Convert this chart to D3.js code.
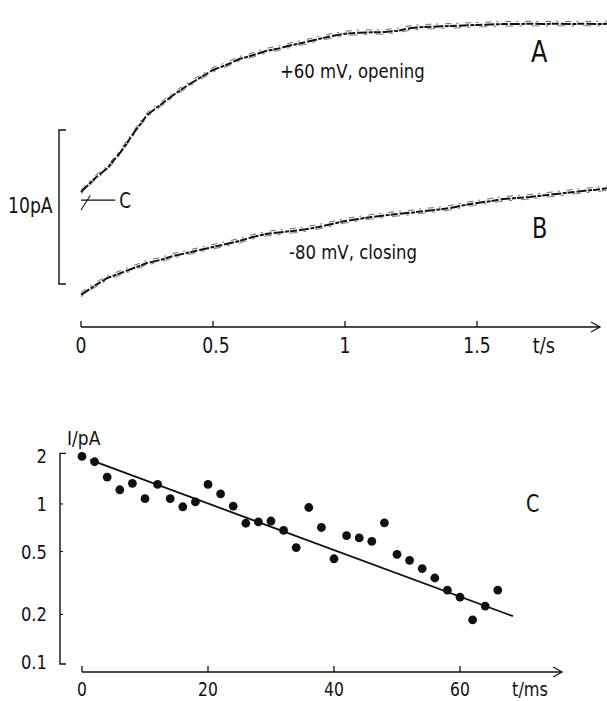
<!DOCTYPE html>
<html>
<head>
<meta charset="utf-8">
<script src="https://cdn.jsdelivr.net/npm/d3@7"></script>
<style>
  body { margin: 0; background: #fff; }
  svg text { font-family: "DejaVu Sans", sans-serif; fill: #111; }
</style>
</head>
<body>
<svg id="fig" width="607" height="701"></svg>
<script>
// ---------- Upper panel: current relaxations after a voltage step ----------
// time in s, current in pA (zero = foot of the 10 pA scale bar)
const traceTime = [0, 0.05, 0.1, 0.15, 0.2, 0.25, 0.3, 0.35, 0.4, 0.45, 0.5, 0.55, 0.6, 0.65,
  0.7, 0.75, 0.8, 0.85, 0.9, 0.95, 1.0, 1.05, 1.1, 1.15, 1.2, 1.25, 1.3, 1.35, 1.4, 1.45,
  1.5, 1.55, 1.6, 1.65, 1.7, 1.75, 1.8, 1.85, 1.9, 1.95, 2.0];
// trace A: +60 mV, opening
const traceA = [5.97, 6.82, 7.53, 8.57, 9.81, 10.97, 11.62, 12.27, 12.86, 13.38, 13.90, 14.22,
  14.61, 14.85, 15.13, 15.30, 15.52, 15.70, 15.91, 16.10, 16.25, 16.32, 16.34, 16.36, 16.45,
  16.62, 16.69, 16.72, 16.75, 16.78, 16.82, 16.85, 16.88, 16.88, 16.90, 16.88, 16.90, 16.88,
  16.90, 16.88, 16.90];
// trace B: -80 mV, closing
const traceB = [-0.71, -0.13, 0.39, 0.71, 1.04, 1.36, 1.56, 1.82, 2.01, 2.21, 2.40, 2.60, 2.79,
  3.05, 3.25, 3.35, 3.44, 3.55, 3.70, 3.90, 4.09, 4.22, 4.35, 4.45, 4.55, 4.63, 4.74, 4.82,
  4.94, 5.12, 5.26, 5.38, 5.52, 5.58, 5.65, 5.75, 5.84, 5.94, 6.04, 6.12, 6.23];
// level C and the initial jump crossing it
const levelC = 5.45;
const levelCSpan = [0, 0.13];
const jumpTime = [0, 0.035];
const jumpCurrent = [4.8, 5.75];
const scaleBar = [0, 10];            // pA
const topTicks = [0, 0.5, 1, 1.5];
const topTickLabels = ["0", "0.5", "1", "1.5"];

// ---------- Lower panel: semilog plot of the decay of component C ----------
const decayTime = [0, 2, 4, 6, 8, 10, 12, 14, 16, 18, 20, 22, 24, 26, 28, 30, 32, 34, 36, 38,
  40, 42, 44, 46, 48, 50, 52, 54, 56, 58, 60, 62, 64, 66];
const decayCurrent = [2.0, 1.85, 1.48, 1.23, 1.35, 1.08, 1.33, 1.08, 0.96, 1.03, 1.33, 1.16,
  0.97, 0.755, 0.77, 0.78, 0.68, 0.53, 0.95, 0.71, 0.45, 0.63, 0.61, 0.58, 0.76, 0.48, 0.44,
  0.39, 0.34, 0.285, 0.257, 0.185, 0.226, 0.285];
const fitTime = [1.3, 68.4];
const fitCurrent = [1.9, 0.195];
const bottomTicks = [0, 20, 40, 60];
const bottomTickLabels = ["0", "20", "40", "60"];
const logTicks = [2, 1, 0.5, 0.2, 0.1];
const logTickLabels = ["2", "1", "0.5", "0.2", "0.1"];

const svg = d3.select("#fig");
const ink = "#111";

// narrow lettering: text squeezed horizontally about its anchor point
function label(x, y, str, size, opts = {}) {
  const sx = opts.sx ?? 0.85;
  return svg.append("text")
    .attr("transform", `translate(${x},${y}) scale(${sx},1)`)
    .attr("text-anchor", opts.anchor ?? "start")
    .attr("font-size", size)
    .text(str);
}

// ---------- upper panel ----------
const xTop = d3.scaleLinear().domain([0, 2]).range([81, 609]);
const yTop = d3.scaleLinear().domain([0, 10]).range([284, 130]);
const axisTopY = 327;
const topArrowT = 1.966;

const traceLine = (vals) => d3.line()
  .x((d, i) => xTop(traceTime[i]))
  .y(d => yTop(d))(vals);

[traceA, traceB].forEach(vals => {
  // faint superimposed sweeps
  svg.append("path").attr("d", traceLine(vals))
    .attr("fill", "none").attr("stroke", ink).attr("stroke-width", 0.9)
    .attr("stroke-dasharray", "6 5 2 7").attr("opacity", 0.7)
    .attr("transform", "translate(0,-2.5)");
  svg.append("path").attr("d", traceLine(vals))
    .attr("fill", "none").attr("stroke", ink).attr("stroke-width", 0.9)
    .attr("stroke-dasharray", "3 9 8 6").attr("opacity", 0.6)
    .attr("transform", "translate(0,2)");
  svg.append("path").attr("d", traceLine(vals))
    .attr("fill", "none").attr("stroke", ink).attr("stroke-width", 2)
    .attr("stroke-dasharray", "10 1.5 4 1 7 2");
});

// level C marker
svg.append("line")
  .attr("x1", xTop(levelCSpan[0])).attr("x2", xTop(levelCSpan[1]))
  .attr("y1", yTop(levelC)).attr("y2", yTop(levelC))
  .attr("stroke", ink).attr("stroke-width", 1.3);
svg.append("line")
  .attr("x1", xTop(jumpTime[0])).attr("x2", xTop(jumpTime[1]))
  .attr("y1", yTop(jumpCurrent[0])).attr("y2", yTop(jumpCurrent[1]))
  .attr("stroke", ink).attr("stroke-width", 1.1);
label(xTop(levelCSpan[1]) + 4, yTop(levelC) + 8, "C", 21, { sx: 0.8 });

// scale bar
const sbX = 59;
svg.append("path")
  .attr("d", `M${sbX + 7},${yTop(scaleBar[1])}H${sbX}V${yTop(scaleBar[0])}H${sbX + 7}`)
  .attr("fill", "none").attr("stroke", ink).attr("stroke-width", 1.4);
label(8, 213, "10pA", 21, { sx: 0.82 });

// time axis
svg.append("line").attr("x1", xTop(0)).attr("x2", xTop(topArrowT))
  .attr("y1", axisTopY).attr("y2", axisTopY).attr("stroke", ink).attr("stroke-width", 1.3);
svg.append("path")
  .attr("d", `M${xTop(topArrowT) - 9},${axisTopY - 5}L${xTop(topArrowT)},${axisTopY}L${xTop(topArrowT) - 9},${axisTopY + 5}`)
  .attr("fill", "none").attr("stroke", ink).attr("stroke-width", 1.2);
topTicks.forEach((t, i) => {
  svg.append("line").attr("x1", xTop(t)).attr("x2", xTop(t))
    .attr("y1", axisTopY).attr("y2", axisTopY - 6).attr("stroke", ink).attr("stroke-width", 1.3);
  label(xTop(t) + (i === 1 ? 3 : 0), 353, topTickLabels[i], 21, { anchor: "middle", sx: 0.82 });
});
label(544, 353, "t/s", 21, { anchor: "middle", sx: 0.85 });

// trace annotations
label(531, 62, "A", 30, { sx: 0.8 });
label(532, 238, "B", 28, { sx: 0.8 });
label(280, 78, "+60 mV, opening", 19, { sx: 0.87 });
label(289, 259, "-80 mV, closing", 19, { sx: 0.87 });

// ---------- lower panel ----------
const xBot = d3.scaleLinear().domain([0, 60]).range([82, 460]);
const yBot = d3.scaleLog().domain([0.1, 2]).range([662, 456.4]);
const axisBotY = 672;
const botArrowT = 76.2;

// log axis drawn as a bracket
const yAxX = 60;
svg.append("path")
  .attr("d", `M${yAxX + 6},${yBot(2) - 3}H${yAxX}V${yBot(0.1) + 2}H${yAxX + 6}`)
  .attr("fill", "none").attr("stroke", ink).attr("stroke-width", 1.4);
logTicks.forEach((v, i) => {
  if (i > 0 && i < logTicks.length - 1) {
    svg.append("line").attr("x1", yAxX).attr("x2", yAxX + 3)
      .attr("y1", yBot(v)).attr("y2", yBot(v)).attr("stroke", ink).attr("stroke-width", 1.1);
  }
  label(47, yBot(v) + 7, logTickLabels[i], 20, { anchor: "end", sx: 0.82 });
});
label(67, 445, "I/pA", 19, { sx: 0.9 });

// time axis
svg.append("line").attr("x1", xBot(0)).attr("x2", xBot(botArrowT))
  .attr("y1", axisBotY).attr("y2", axisBotY).attr("stroke", ink).attr("stroke-width", 1.3);
svg.append("path")
  .attr("d", `M${xBot(botArrowT) - 9},${axisBotY - 5}L${xBot(botArrowT)},${axisBotY}L${xBot(botArrowT) - 9},${axisBotY + 5}`)
  .attr("fill", "none").attr("stroke", ink).attr("stroke-width", 1.2);
bottomTicks.forEach((t, i) => {
  svg.append("line").attr("x1", xBot(t)).attr("x2", xBot(t))
    .attr("y1", axisBotY).attr("y2", axisBotY - 6).attr("stroke", ink).attr("stroke-width", 1.3);
  label(xBot(t), 696, bottomTickLabels[i], 19, { anchor: "middle", sx: 0.82 });
});
label(530, 696, "t/ms", 19, { anchor: "middle", sx: 0.85 });

// fitted single exponential
svg.append("path")
  .attr("d", d3.line().x((d, i) => xBot(fitTime[i])).y(d => yBot(d))(fitCurrent))
  .attr("fill", "none").attr("stroke", ink).attr("stroke-width", 1.8);

// measured points
svg.selectAll("circle.pt").data(decayCurrent).join("circle")
  .attr("class", "pt")
  .attr("cx", (d, i) => xBot(decayTime[i]))
  .attr("cy", d => yBot(d))
  .attr("r", 4.4)
  .attr("fill", ink);

label(526, 512, "C", 24, { sx: 0.8 });
</script>
</body>
</html>
